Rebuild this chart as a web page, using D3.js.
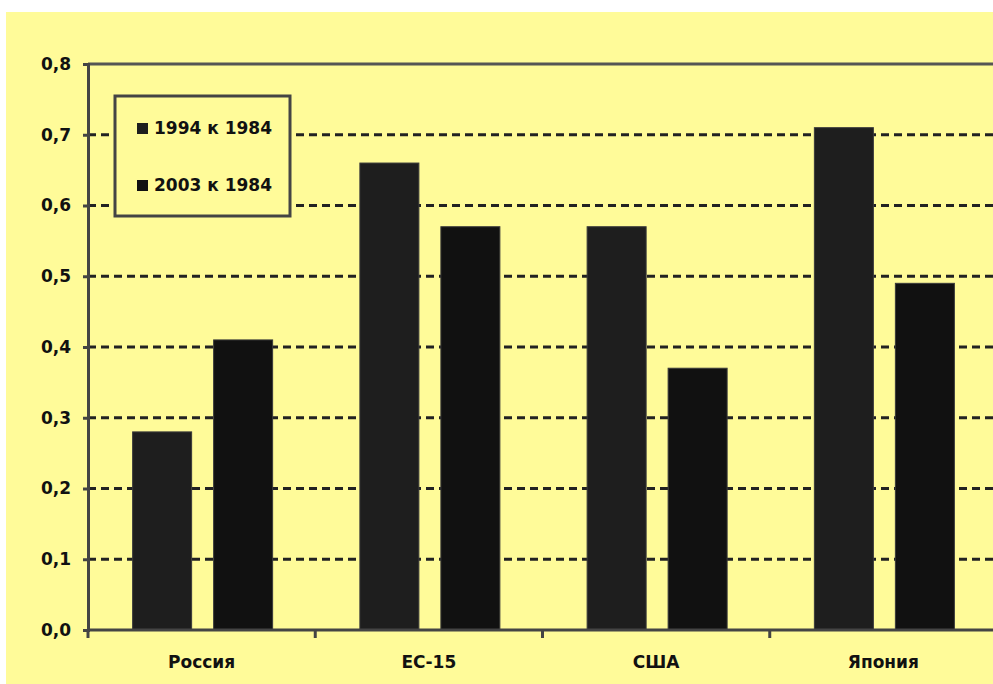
<!DOCTYPE html>
<html><head><meta charset="utf-8">
<script src="https://cdn.jsdelivr.net/npm/d3@7/dist/d3.min.js"></script>
<style>body{margin:0;background:#fff;}svg{display:block;}</style>
</head><body>
<script>
const categories = ["Россия", "ЕС-15", "США", "Япония"];
const seriesNames = ["1994 к 1984", "2003 к 1984"];
const series1 = [0.28, 0.66, 0.57, 0.71];
const series2 = [0.41, 0.57, 0.37, 0.49];
const yTicks = [0, 0.1, 0.2, 0.3, 0.4, 0.5, 0.6, 0.7, 0.8];
const yTickLabels = ["0,0", "0,1", "0,2", "0,3", "0,4", "0,5", "0,6", "0,7", "0,8"];
const seriesColors = ["#1e1e1e", "#111111"];

(function () {
const W = 993, H = 684;
const svg = d3.select("body").append("svg").attr("width", W).attr("height", H);
svg.append("rect").attr("x", 6).attr("y", 12).attr("width", W - 6).attr("height", H - 12).attr("fill", "#fffb99");

const pL = 88, pR = 997, pT = 64, pB = 630;
const x = d3.scaleBand().domain(categories).range([pL, pR]);
const y = d3.scaleLinear().domain([0, 0.8]).range([pB, pT]);
const axisColor = "#444";
const font = "'DejaVu Sans', Verdana, sans-serif";
const fs = 17;

// gridlines
svg.append("g").selectAll("line").data(yTicks.filter(t => t > 0 && t < 0.8)).join("line")
  .attr("x1", pL).attr("x2", W).attr("y1", d => y(d)).attr("y2", d => y(d))
  .attr("stroke", "#222").attr("stroke-width", 3).attr("stroke-dasharray", "8,5");

// bars
const bw = 59, gap = 22;
const offs = (x.bandwidth() - 2 * bw - gap) / 2 + 1;
const data = categories.map((c, i) => ({c, v: [series1[i], series2[i]]}));
const gBars = svg.append("g");
data.forEach(d => {
  d.v.forEach((v, j) => {
    gBars.append("rect")
      .attr("x", x(d.c) + offs + j * (bw + gap))
      .attr("y", y(v))
      .attr("width", bw)
      .attr("height", y(0) - y(v))
      .attr("fill", seriesColors[j])
      .attr("stroke", "#3a3a3a").attr("stroke-width", 1);
  });
});

// top border
svg.append("line").attr("x1", pL).attr("x2", W).attr("y1", pT).attr("y2", pT)
  .attr("stroke", "#555").attr("stroke-width", 3);

// y axis
const yAxis = d3.axisLeft(y).tickValues(yTicks).tickFormat((d, i) => yTickLabels[i]).tickSize(5).tickPadding(12);
const gy = svg.append("g").attr("transform", `translate(${pL},0)`).call(yAxis);
gy.select(".domain").attr("stroke", axisColor).attr("stroke-width", 3);
gy.selectAll(".tick line").attr("stroke", axisColor).attr("stroke-width", 3);
gy.selectAll(".tick text").attr("font-family", font).attr("font-weight", "bold").attr("font-size", fs).attr("fill", "#111");

// x axis
const xAxis = d3.axisBottom(x).tickSize(0).tickPadding(26);
const gx = svg.append("g").attr("transform", `translate(0,${pB})`).call(xAxis);
gx.select(".domain").remove();
gx.append("line").attr("x1", pL).attr("x2", W).attr("y1", 0).attr("y2", 0).attr("stroke", axisColor).attr("stroke-width", 3);
gx.selectAll(".tick text").attr("font-family", font).attr("font-weight", "bold").attr("font-size", fs).attr("fill", "#111");
const bounds = categories.map(c => x(c)).concat([x(categories[categories.length - 1]) + x.bandwidth()]);
gx.append("g").selectAll("line").data(bounds).join("line")
  .attr("x1", d => d).attr("x2", d => d).attr("y1", 0).attr("y2", 8)
  .attr("stroke", axisColor).attr("stroke-width", 3);

// legend
const lg = svg.append("g");
lg.append("rect").attr("x", 115).attr("y", 96).attr("width", 175).attr("height", 120)
  .attr("fill", "#fffb99").attr("stroke", axisColor).attr("stroke-width", 3);
const legY = [128, 185];
seriesNames.forEach((n, i) => {
  lg.append("rect").attr("x", 137).attr("y", legY[i] - 5).attr("width", 11).attr("height", 11).attr("fill", seriesColors[i]);
  lg.append("text").attr("x", 154).attr("y", legY[i]).attr("dy", "0.35em")
    .attr("font-family", font).attr("font-weight", "bold").attr("font-size", fs).attr("fill", "#111").text(n);
});
})();
</script>
</body></html>
